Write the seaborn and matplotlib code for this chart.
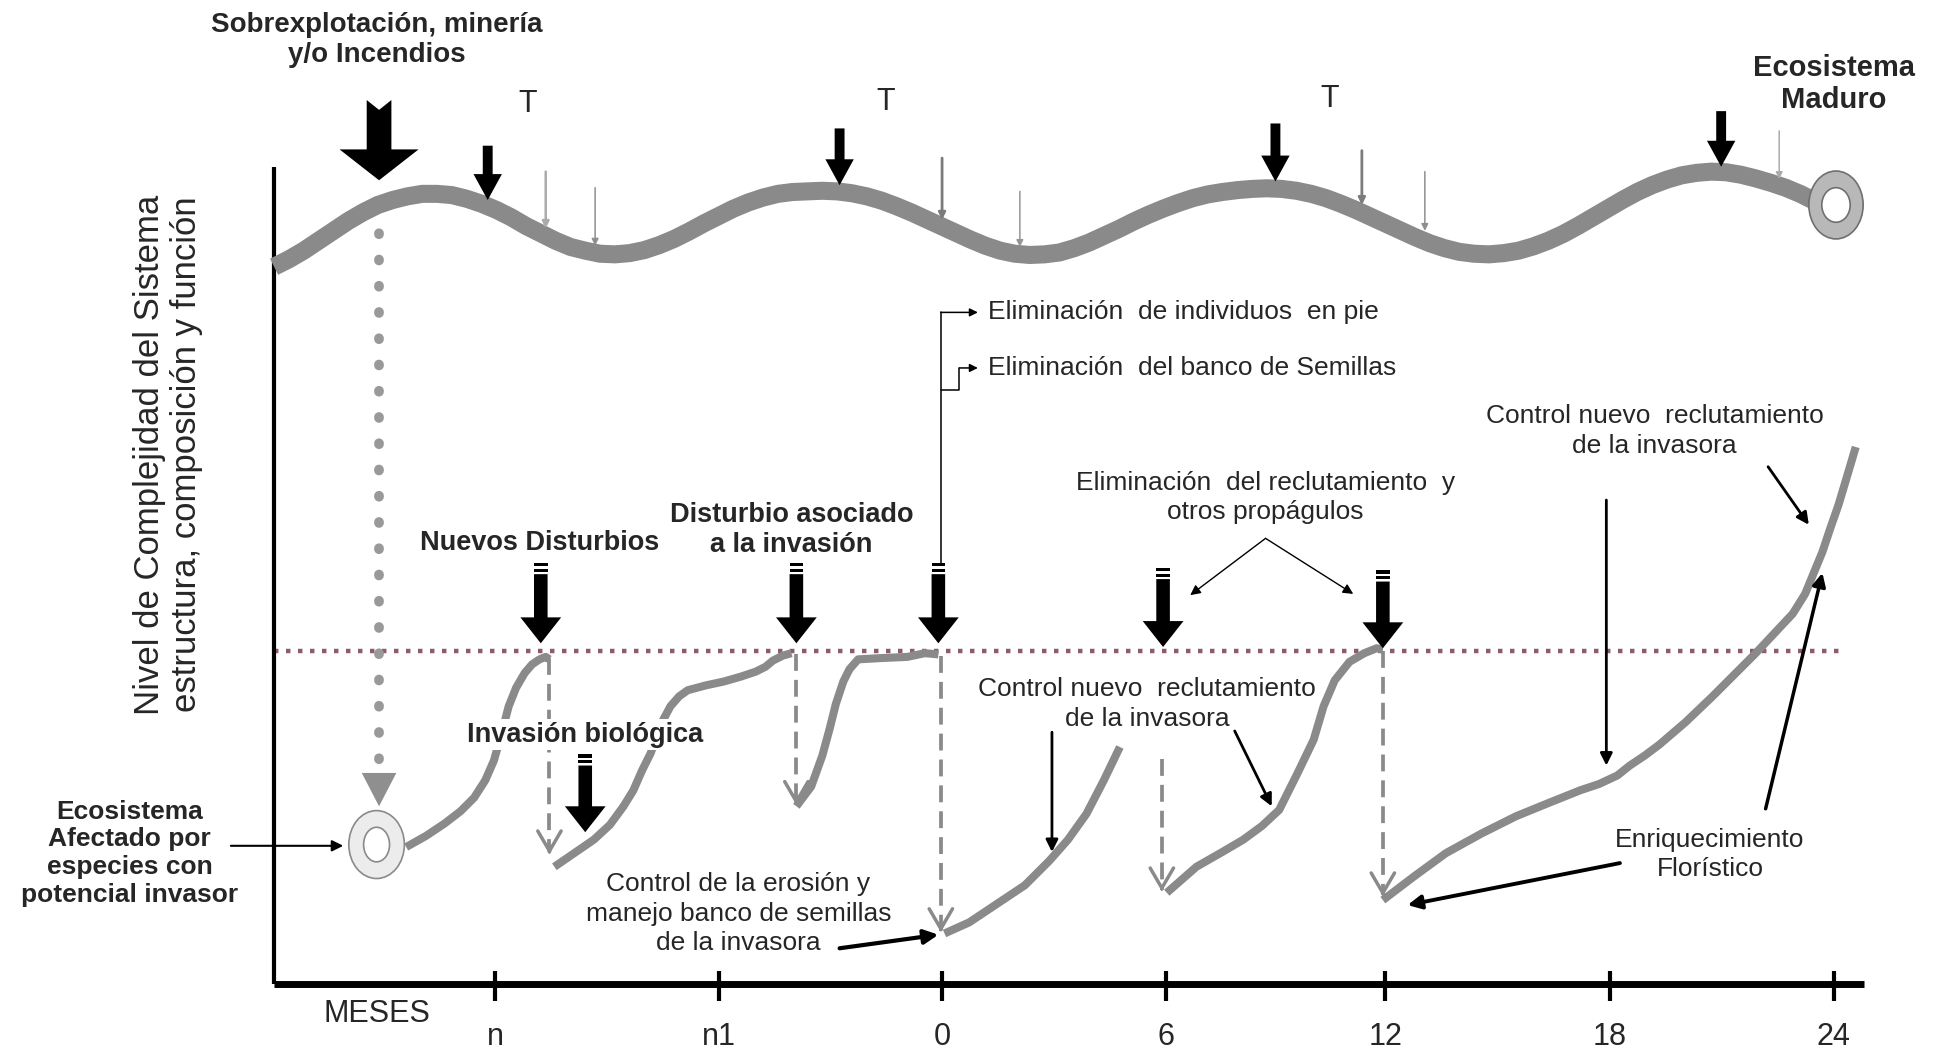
# ----------------------------------------
# Imports
import numpy as np
import pandas as pd
import seaborn as sns
import matplotlib
matplotlib.use("Agg")
import matplotlib.pyplot as plt
from matplotlib.patches import Ellipse, Polygon, Rectangle
# ----------------------------------------

# Diagram canvas: 1568 x 852 units, y grows downward

# Upper trajectory (mature ecosystem)
wave_x = [222, 234, 246, 258, 270, 282, 294, 306, 318, 330, 342, 354, 366, 378, 390, 402,
          414, 426, 438, 450, 462, 474, 486, 498, 510, 522, 534, 546, 558, 570, 582, 594,
          606, 618, 630, 642, 654, 666, 678, 690, 702, 714, 726, 738, 750, 762, 774, 786,
          798, 810, 822, 834, 846, 858, 870, 882, 894, 906, 918, 930, 942, 954, 966, 978,
          990, 1002, 1014, 1026, 1038, 1050, 1062, 1074, 1086, 1098, 1110, 1122, 1134, 1146,
          1158, 1170, 1182, 1194, 1206, 1218, 1230, 1242, 1254, 1266, 1278, 1290, 1302, 1314,
          1326, 1338, 1350, 1362, 1374, 1386, 1398, 1410, 1422, 1434, 1446, 1458, 1468]
wave_y = [216, 210, 203, 195, 187, 179, 172, 166, 162, 159, 157, 157, 158, 161, 165, 170,
          176, 183, 189, 195, 200, 203, 205.5, 206, 205, 202.5, 198.5, 193.5, 187.5, 181, 175, 169,
          164, 160, 157, 155.5, 155, 154.5, 155, 156.5, 159, 162.5, 167, 172, 177.5, 183, 188.5, 194,
          199, 203, 205.5, 206.5, 206, 204.5, 201, 196.5, 191, 185.5, 179.5, 174, 169, 164.5, 160.5, 157.5,
          155.5, 154, 153, 152.5, 153, 154.5, 157, 160.5, 165, 170, 175.5, 181, 186.5, 192,
          197, 201, 204, 205.5, 206, 205, 203, 199.5, 195, 189.5, 183, 176, 169, 162,
          155.5, 150, 145.5, 142, 140, 139, 139.5, 141.5, 144.5, 148, 152, 157, 162]

# Lower trajectories (invasion / restoration stages)
curve_a_x = [329, 345, 360, 373, 384, 393, 400, 406, 412, 418, 425, 431, 437, 442, 445]
curve_a_y = [686, 677, 667, 657, 646, 632, 616, 595, 572, 557, 545, 538, 534, 532, 534]
curve_b_x = [449, 465, 481, 494, 505, 513, 520, 527, 535, 543, 550, 557, 572, 586, 600,
             612, 620, 626, 634, 641]
curve_b_y = [702, 691, 680, 668, 653, 640, 624, 610, 587, 572, 564, 559, 555, 552, 548,
             544, 540, 535, 531, 529]
curve_c_x = [645, 657, 666, 672, 677, 683, 688, 695, 713, 735, 749, 760]
curve_c_y = [653, 637, 612, 590, 570, 552, 542, 534, 533, 532, 529, 530]
curve_d_x = [765, 785, 800, 815, 830, 850, 865, 880, 894, 907]
curve_d_y = [756, 747, 737, 727, 717, 697, 680, 659, 632, 605]
curve_e_x = [945, 969, 990, 1007, 1022, 1036, 1051, 1064, 1072, 1081, 1093, 1105, 1115, 1120]
curve_e_y = [723, 702, 690, 680, 669, 656, 626, 599, 572, 551, 536, 529, 525, 526]
curve_f_x = [1120, 1145, 1171, 1200, 1228, 1255, 1280, 1295, 1310, 1320, 1332, 1344, 1365,
             1387, 1405, 1422, 1437, 1452, 1462, 1469, 1476, 1482, 1489, 1495, 1503]
curve_f_y = [729, 710, 691, 675, 661, 650, 640, 635, 628, 620, 612, 603, 585,
             564, 546, 529, 513, 497, 481, 464, 447, 429, 409, 389, 362]

# Month axis
month_ticks = [401, 582, 763, 944, 1122, 1304, 1485]
month_labels = ["n", "n1", "0", "6", "12", "18", "24"]

# Black disturbance arrows on the upper trajectory
wave_arrow_x = [395, 680, 1033, 1394]
wave_arrow_top = [118, 104, 100, 90]
wave_arrow_tip = [162, 150, 147, 135]

# Thin gray arrows on the upper trajectory
thin_x = [442, 482, 763, 826, 1103, 1154, 1441]
thin_top = [139, 152, 128, 155, 122, 139, 106]
thin_tip = [185, 199, 178, 200, 166, 187, 145]
thin_color = ["#ababab", "#8f8f8f", "#7c7c7c", "#959595", "#7c7c7c", "#8f8f8f", "#ababab"]
thin_lw = [1.8, 1.1, 2.0, 1.1, 2.0, 1.1, 1.1]

# Striped intervention arrows
mgmt_x = [438, 645, 760, 942, 1120, 474]
mgmt_top = [456, 456, 456, 460, 462, 611]
mgmt_tip = [521, 521, 521, 524, 525, 674]

# Dashed drops after each intervention
drop_x = [445, 645, 762, 941, 1120]
drop_top = [533, 530, 531, 615, 527]
drop_bottom = [692, 652, 755, 722, 726]

# Thin black annotation arrows (start -> end)
note_x0 = [187, 680, 852, 1000, 1301, 1432, 1312, 1430, 1025, 1025]
note_y0 = [685, 768, 593, 592, 405, 378, 699, 655, 436, 436]
note_x1 = [278, 760, 852, 1030, 1301, 1465, 1140, 1476, 964, 1096]
note_y1 = [685, 757, 690, 653, 620, 425, 733, 464, 482, 481]
note_lw = [1.5, 3.0, 2.0, 2.0, 2.0, 2.0, 2.8, 2.5, 1.0, 1.0]

threshold_y = 527

GRAY = "#8a8a8a"

sns.set_theme(style="white")
plt.rcParams["font.family"] = ["Liberation Sans", "DejaVu Sans"]

fig = plt.figure(figsize=(19.36, 10.52), dpi=100, facecolor="white")
ax = fig.add_axes([0, 0, 1, 1])


def block_arrow(x, top, tip, shaft, head, head_len, stripes=False, notch=0, z=5):
    start = top
    if stripes:
        for k in range(2):
            ax.add_patch(Rectangle((x - shaft / 2, top + k * 4.5), shaft, 2.5,
                                   color="black", lw=0, zorder=z))
        start = top + 9
    pts = [(x - shaft / 2, start), (x, start + notch), (x + shaft / 2, start),
           (x + shaft / 2, tip - head_len), (x + head / 2, tip - head_len), (x, tip),
           (x - head / 2, tip - head_len), (x - shaft / 2, tip - head_len)]
    ax.add_patch(Polygon(pts, closed=True, color="black", lw=0, zorder=z))


# axes of the diagram
ax.plot([222, 222], [135, 797], color="black", lw=3, solid_capstyle="butt")
ax.plot([222, 1510], [797, 797], color="black", lw=5, solid_capstyle="butt")
ax.vlines(month_ticks, 786, 811, color="black", lw=3)
for t, lab in zip(month_ticks, month_labels):
    ax.text(t, 840, lab, ha="center", va="center", fontsize=22)
ax.text(305, 821, "MESES", ha="center", va="center", fontsize=22)

# upper trajectory
sns.lineplot(x=wave_x, y=wave_y, sort=False, estimator=None, color=GRAY, lw=13,
             solid_capstyle="butt", solid_joinstyle="round", ax=ax, zorder=3)
ax.add_patch(Ellipse((1487, 166), 44, 55, facecolor="#b8b8b8", edgecolor="#6f6f6f", lw=1.2, zorder=4))
ax.add_patch(Ellipse((1487, 166), 23, 28, facecolor="white", edgecolor="#6f6f6f", lw=1.2, zorder=4))

for x, t0, t1 in zip(wave_arrow_x, wave_arrow_top, wave_arrow_tip):
    block_arrow(x, t0, t1, 8, 23, 21)
for x, t0, t1, c, w in zip(thin_x, thin_top, thin_tip, thin_color, thin_lw):
    ax.annotate("", xy=(x, t1), xytext=(x, t0),
                arrowprops=dict(arrowstyle="-|>", color=c, lw=w, mutation_scale=10, shrinkA=0, shrinkB=0),
                zorder=5)

# main disturbance (overexploitation)
block_arrow(307, 81, 146, 20, 64, 25, notch=8)
ax.plot([307, 307], [168, 620], color="#999999", lw=7, ls=(0, (0.1, 2.6)),
        dash_capstyle="round", zorder=2)
ax.add_patch(Polygon([(293, 626), (321, 626), (307, 653)], closed=True, color="#8f8f8f", lw=0))
ax.add_patch(Ellipse((305, 684), 45, 55, facecolor="#ececec", edgecolor="#8a8a8a", lw=1.2, zorder=4))
ax.add_patch(Ellipse((305, 684), 21, 28, facecolor="white", edgecolor="#8a8a8a", lw=1.2, zorder=4))

# threshold line
ax.plot([222, 1495], [threshold_y, threshold_y], color="#8d5b6b", lw=3.2,
        ls=(0, (1, 1.7)), zorder=1)

# lower trajectories
for cx, cy in [(curve_a_x, curve_a_y), (curve_b_x, curve_b_y), (curve_c_x, curve_c_y),
               (curve_d_x, curve_d_y), (curve_e_x, curve_e_y), (curve_f_x, curve_f_y)]:
    sns.lineplot(x=cx, y=cy, sort=False, estimator=None, color=GRAY, lw=5.8,
                 solid_capstyle="butt", solid_joinstyle="round", ax=ax, zorder=3)

for x, t0, t1 in zip(drop_x, drop_top, drop_bottom):
    ax.plot([x, x], [t0, t1 - 4], color=GRAY, lw=2.7, ls=(0, (4.5, 2.4)), zorder=2)
    ax.annotate("", xy=(x, t1), xytext=(x, t1 - 3),
                arrowprops=dict(arrowstyle="->,head_length=1.2,head_width=0.7", color=GRAY,
                                lw=2.5, shrinkA=0, shrinkB=0), zorder=2)

for x, t0, t1 in zip(mgmt_x, mgmt_top, mgmt_tip):
    block_arrow(x, t0, t1, 11, 33, 21, stripes=True, z=6)

# annotation arrows
for x0, y0, x1, y1, w in zip(note_x0, note_y0, note_x1, note_y1, note_lw):
    ax.annotate("", xy=(x1, y1), xytext=(x0, y0),
                arrowprops=dict(arrowstyle="-|>", color="black", lw=w,
                                mutation_scale=12 + 3 * w, shrinkA=0, shrinkB=0), zorder=6)

# bracket towards the two elimination actions
ax.plot([762, 762], [456, 253], color="black", lw=1.1)
ax.plot([762, 777, 777], [316, 316, 298], color="black", lw=1.1)
for sx, sy in [(762, 253), (777, 298)]:
    ax.annotate("", xy=(792, sy), xytext=(sx, sy),
                arrowprops=dict(arrowstyle="-|>", color="black", lw=1.1, mutation_scale=12,
                                shrinkA=0, shrinkB=0))

# texts
bold = dict(fontweight="bold", ha="center", va="center", linespacing=1.2)
norm = dict(ha="center", va="center", linespacing=1.3)
ax.text(305, 32, "Sobrexplotación, minería\ny/o Incendios", fontsize=20, **bold)
ax.text(1485, 68, "Ecosistema\nMaduro", fontsize=21, **bold)
for tx, ty in [(427, 84), (717, 83), (1077, 80)]:
    ax.text(tx, ty, "T", fontsize=22, ha="center", va="center")
ax.text(136, 368, "Nivel de Complejidad del Sistema\nestructura, composición y función",
        rotation=90, fontsize=25, ha="center", va="center", linespacing=1.15)
ax.text(800, 253, "Eliminación  de individuos  en pie", fontsize=19, ha="left", va="center")
ax.text(800, 298, "Eliminación  del banco de Semillas", fontsize=19, ha="left", va="center")
ax.text(437, 440, "Nuevos Disturbios", fontsize=19.5, **bold)
ax.text(641, 429, "Disturbio asociado\na la invasión", fontsize=19.5, **bold)
ax.text(474, 595, "Invasión biológica", fontsize=19.5, zorder=5,
        bbox=dict(facecolor="white", edgecolor="none", pad=2), **bold)
ax.text(105, 691, "Ecosistema\nAfectado por\nespecies con\npotencial invasor", fontsize=19, **bold)
ax.text(598, 740, "Control de la erosión y\nmanejo banco de semillas\nde la invasora", fontsize=19, **norm)
ax.text(1025, 403, "Eliminación  del reclutamiento  y\notros propágulos", fontsize=19, **norm)
ax.text(929, 570, "Control nuevo  reclutamiento\nde la invasora", fontsize=19, **norm)
ax.text(1340, 349, "Control nuevo  reclutamiento\nde la invasora", fontsize=19, **norm)
ax.text(1385, 692, "Enriquecimiento\nFlorístico", fontsize=19, **norm)

ax.set_xlim(0, 1568)
ax.set_ylim(852, 0)
ax.axis("off")

fig.savefig("out.png", dpi=100, facecolor="white")
